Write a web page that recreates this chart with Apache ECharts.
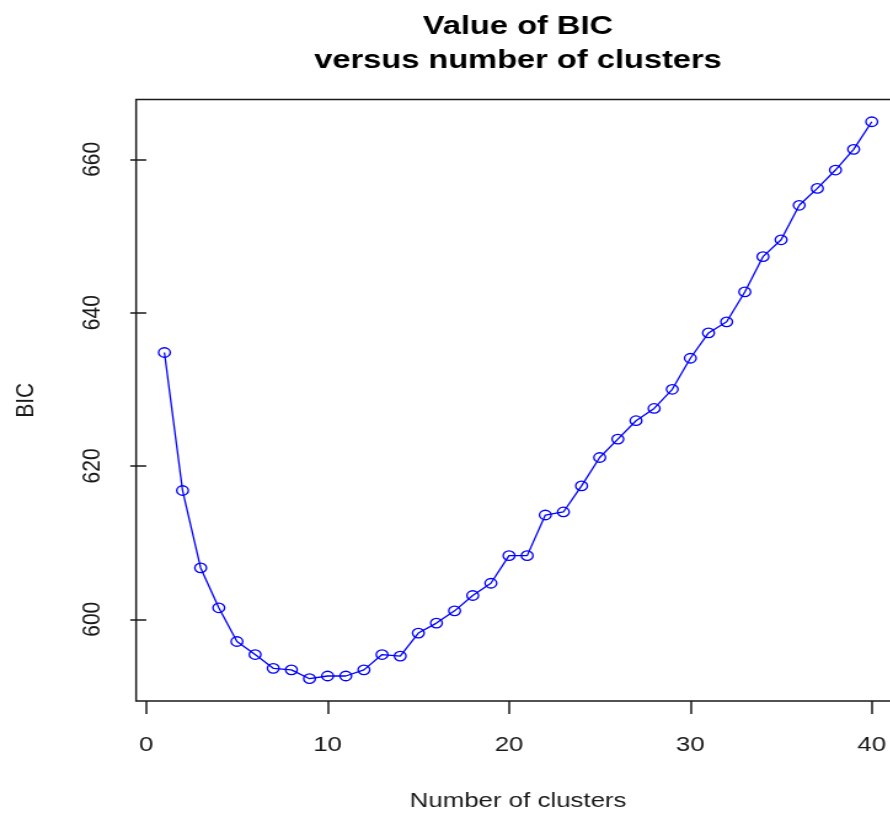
<!DOCTYPE html>
<html>
<head>
<meta charset="utf-8">
<script src="https://cdn.jsdelivr.net/npm/echarts@6/dist/echarts.min.js"></script>
<style>
  html, body { margin: 0; padding: 0; background: #fff; overflow: hidden; }
  /* the plot is laid out narrow and widened horizontally */
  #chart { width: 740px; height: 817px; transform: scaleX(1.23); transform-origin: 0 0; }
</style>
</head>
<body>
<div id="chart"></div>
<script>
// number of clusters
const clusters = [1, 2, 3, 4, 5, 6, 7, 8, 9, 10, 11, 12, 13, 14, 15, 16, 17, 18, 19, 20,
                  21, 22, 23, 24, 25, 26, 27, 28, 29, 30, 31, 32, 33, 34, 35, 36, 37, 38, 39, 40];
// BIC value for each cluster count
const bic = [634.8, 616.8, 606.7, 601.5, 597.1, 595.4, 593.6, 593.4, 592.25, 592.6,
             592.6, 593.4, 595.4, 595.2, 598.2, 599.5, 601.1, 603.1, 604.7, 608.3,
             608.3, 613.6, 614.0, 617.4, 621.1, 623.5, 625.9, 627.5, 630.0, 634.05,
             637.35, 638.8, 642.7, 647.3, 649.5, 654.0, 656.2, 658.6, 661.3, 664.9];
// tick labels
const xTicks = [0, 10, 20, 30, 40];
const yTicks = [600, 620, 640, 660];

const titleText = 'Value of BIC\nversus number of clusters';
const xName = 'Number of clusters';
const yName = 'BIC';

const FONT = '"Liberation Sans", Arial, Helvetica, sans-serif';
const INK = '#1a1a1a';

const chart = echarts.init(document.getElementById('chart'), null, { renderer: 'canvas' });

const axisCommon = {
  type: 'value',
  splitLine: { show: false },
  axisLine: { show: false },
  nameLocation: 'middle',
  nameTextStyle: { fontFamily: FONT, fontSize: 21, color: INK },
  axisTick: { show: true, inside: false, length: 13, lineStyle: { color: INK, width: 1.5 } },
  axisLabel: { fontFamily: FONT, fontSize: 21, color: INK }
};

chart.setOption({
  animation: false,
  backgroundColor: '#fff',
  graphic: [{
    type: 'text',
    x: 421.1,
    y: 10,
    style: {
      text: titleText,
      font: 'bold 26.5px ' + FONT,
      fill: '#000',
      align: 'center',
      verticalAlign: 'top',
      lineHeight: 34
    }
  }],
  grid: {
    left: 110.65,
    top: 99.5,
    width: 621.1,
    height: 601.5,
    show: true,
    borderColor: INK,
    borderWidth: 1.5,
    backgroundColor: 'transparent'
  },
  xAxis: Object.assign({}, axisCommon, {
    min: -0.56,
    max: 41.56,
    name: xName,
    nameGap: 90,
    axisTick: Object.assign({}, axisCommon.axisTick, { customValues: xTicks }),
    axisLabel: Object.assign({}, axisCommon.axisLabel, { customValues: xTicks, margin: 34 })
  }),
  yAxis: Object.assign({}, axisCommon, {
    min: 589.34,
    max: 667.8,
    name: yName,
    nameGap: 79,
    axisTick: Object.assign({}, axisCommon.axisTick, { customValues: yTicks }),
    axisLabel: Object.assign({}, axisCommon.axisLabel, { customValues: yTicks, rotate: 90, margin: 25 })
  }),
  series: [{
    type: 'line',
    data: clusters.map((c, i) => [c, bic[i]]),
    symbol: 'circle',
    symbolSize: 9.5,
    lineStyle: { color: '#0000ff', width: 1.3 },
    itemStyle: { color: 'transparent', borderColor: '#0000ff', borderWidth: 1.3 },
    emphasis: { disabled: true },
    z: 3
  }]
});
</script>
</body>
</html>
